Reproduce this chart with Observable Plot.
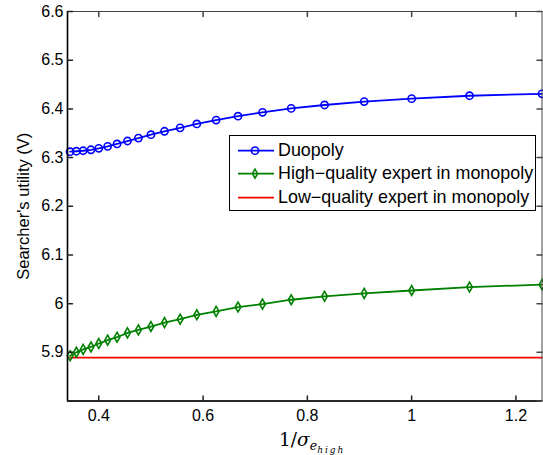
<!DOCTYPE html>
<html><head><meta charset="utf-8">
<script src="https://cdn.jsdelivr.net/npm/d3@7"></script>
<script src="https://cdn.jsdelivr.net/npm/@observablehq/plot@0.6"></script>
<style>
body{margin:0;background:#fff;font-family:"Liberation Sans",Arial,Helvetica,sans-serif}
#wrap{position:relative;width:543px;height:455px}
#legend{position:absolute;left:229px;top:134.5px;width:307px;height:76.5px;box-sizing:border-box;border:1px solid #000;background:#fff;padding-top:3.5px}
#legend .row{position:relative;height:23.3px;line-height:23.3px;font-size:17.9px;white-space:nowrap}
#legend svg{position:absolute;left:7px;top:0}
#legend span{position:absolute;left:48px;top:0}
</style>
</head><body><div id="wrap"></div>
<script>
// x values: 1/sigma_e_high
const xValues = [0.345, 0.357, 0.370, 0.385, 0.400, 0.417, 0.435, 0.455, 0.476, 0.500, 0.526, 0.556, 0.588, 0.625, 0.667, 0.714, 0.769, 0.833, 0.909, 1.000, 1.111, 1.250];
const duopoly = [6.312, 6.313, 6.314, 6.316, 6.319, 6.323, 6.328, 6.334, 6.340, 6.347, 6.354, 6.361, 6.369, 6.377, 6.385, 6.393, 6.401, 6.408, 6.415, 6.421, 6.427, 6.431];
const highMonopoly = [5.893, 5.900, 5.906, 5.911, 5.918, 5.925, 5.931, 5.940, 5.946, 5.953, 5.961, 5.968, 5.977, 5.984, 5.993, 5.999, 6.008, 6.015, 6.021, 6.027, 6.034, 6.039];
const lowMonopoly = [5.889, 5.889, 5.889, 5.889, 5.889, 5.889, 5.889, 5.889, 5.889, 5.889, 5.889, 5.889, 5.889, 5.889, 5.889, 5.889, 5.889, 5.889, 5.889, 5.889, 5.889, 5.889];
const seriesNames = ["Duopoly", "High\u2212quality expert in monopoly", "Low\u2212quality expert in monopoly"];
const seriesColors = ["#0000ff", "#008000", "#ff0000"];
const xTicks = [0.4, 0.6, 0.8, 1.0, 1.2];
const yTicks = [5.8, 5.9, 6.0, 6.1, 6.2, 6.3, 6.4, 6.5, 6.6];
const yTickLabels = [5.9, 6.0, 6.1, 6.2, 6.3, 6.4, 6.5, 6.6];
const xDomain = [0.34, 1.25];
const yDomain = [5.8, 6.6];
const yTitle = "Searcher's utility (V)";

const rows = (ys) => xValues.map((x, i) => ({x, y: ys[i]}));
const dDuo = rows(duopoly), dHigh = rows(highMonopoly), dLow = rows(lowMonopoly);
const fmt = d => `${+d.toFixed(2)}`;
const tickShape = {draw(ctx, l) { ctx.moveTo(0, 0); ctx.lineTo(0, -l); }};

const chart = Plot.plot({
  width: 543, height: 455,
  marginLeft: 67, marginRight: 1.5, marginTop: 11, marginBottom: 54.5,
  style: {fontSize: "16px", fontFamily: "'Liberation Sans', Arial, Helvetica, sans-serif", background: "#fff", color: "#000", overflow: "visible"},
  x: {domain: xDomain},
  y: {domain: yDomain},
  marks: [
    Plot.line(dLow, {x: "x", y: "y", stroke: seriesColors[2], strokeWidth: 1.6}),
    Plot.line(dHigh, {x: "x", y: "y", stroke: seriesColors[1], strokeWidth: 1.8}),
    Plot.dot(dHigh, {x: "x", y: "y", stroke: seriesColors[1], symbol: "diamond", r: 3, strokeWidth: 1.6, fill: "none"}),
    Plot.line(dDuo, {x: "x", y: "y", stroke: seriesColors[0], strokeWidth: 1.8}),
    Plot.dot(dDuo, {x: "x", y: "y", stroke: seriesColors[0], symbol: "circle", r: 3.6, strokeWidth: 1.6, fill: "none"}),
    Plot.frame({stroke: "#444", strokeWidth: 1}),
    Plot.ruleX([xDomain[0]], {stroke: "#000", strokeWidth: 1.6}),
    Plot.ruleY([yDomain[0]], {stroke: "#000", strokeWidth: 1.6}),
    Plot.vector(xTicks, {x: d => d, frameAnchor: "bottom", length: 5, anchor: "start", rotate: 0, shape: tickShape, stroke: "#222"}),
    Plot.vector(xTicks, {x: d => d, frameAnchor: "top", length: 5, anchor: "start", rotate: 180, shape: tickShape, stroke: "#444"}),
    Plot.vector(yTicks, {y: d => d, frameAnchor: "left", length: 5, anchor: "start", rotate: 90, shape: tickShape, stroke: "#222"}),
    Plot.vector(yTicks, {y: d => d, frameAnchor: "right", length: 5, anchor: "start", rotate: -90, shape: tickShape, stroke: "#444"}),
    Plot.axisX(xTicks, {tickSize: 0, tickPadding: 9, tickFormat: fmt, label: null}),
    Plot.axisY(yTickLabels, {tickSize: 0, tickPadding: 4, tickFormat: fmt, label: null}),
    Plot.text([yTitle], {text: d => d, frameAnchor: "left", textAnchor: "middle", lineAnchor: "middle", rotate: -90, dx: -44, fontSize: 16.5})
  ]
});
document.getElementById("wrap").appendChild(chart);

// x-axis title with LaTeX-like subscripts
const xr = chart.scale("x").range;
const svg = d3.select(chart);
const t = svg.append("text")
  .attr("x", (xr[0] + xr[1]) / 2 + 8)
  .attr("y", 446)
  .attr("text-anchor", "middle")
  .attr("font-family", "'DejaVu Serif', 'Liberation Serif', serif")
  .attr("font-size", 18.5)
  .attr("fill", "#000");
t.append("tspan").text("1/");
t.append("tspan").attr("font-style", "italic").text("\u03c3");
t.append("tspan").attr("font-style", "italic").attr("font-size", 12.5).attr("dy", 3.5).text("e");
t.append("tspan").attr("font-style", "italic").attr("font-size", 9).attr("dy", 3).attr("letter-spacing", 2).text("high");

// legend
const legend = document.createElement("div");
legend.id = "legend";
const markers = ["circle", "diamond", null];
seriesNames.forEach((name, i) => {
  const row = document.createElement("div");
  row.className = "row";
  let m = "";
  if (markers[i] === "circle") m = `<circle cx="18" cy="11.65" r="3.6" fill="none" stroke="${seriesColors[i]}" stroke-width="1.6"/>`;
  if (markers[i] === "diamond") m = `<path d="M18,7.15 L20.6,11.65 L18,16.15 L15.4,11.65 Z" fill="none" stroke="${seriesColors[i]}" stroke-width="1.6"/>`;
  row.innerHTML = `<svg width="38" height="23.3"><line x1="1" x2="37" y1="11.65" y2="11.65" stroke="${seriesColors[i]}" stroke-width="1.8"/>${m}</svg><span>${name}</span>`;
  legend.appendChild(row);
});
document.getElementById("wrap").appendChild(legend);
</script>
</body></html>
